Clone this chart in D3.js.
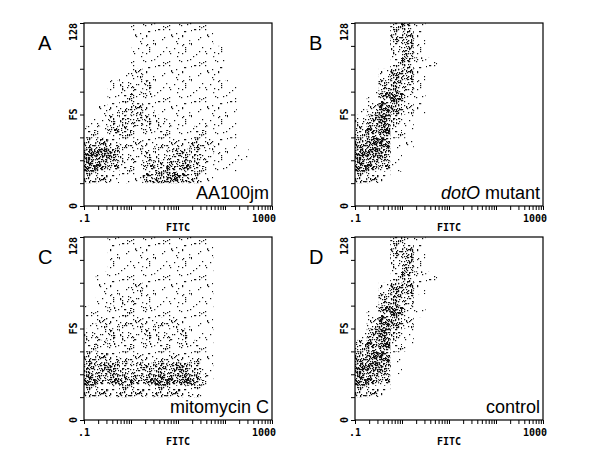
<!DOCTYPE html><html><head><meta charset="utf-8">
<script src="https://cdn.jsdelivr.net/npm/d3@7"></script>
<style>body{margin:0;background:#fff}</style></head><body><svg id="c" width="600" height="450"></svg>
<script>
// Density grids (16 cols = FITC log decades 0.1..1000 in quarter-decade steps; 16 rows = FS 128..0 in steps of 8)
const panelLetters=["A","B","C","D"];
const panelNames=["AA100jm","dotO mutant","mitomycin C","control"];
const xTickLabels=[".1","1000"];
const yTickLabels=["0","128"];
const gridA=["0000111111100000","0000111111100000","0000111111110000","0000111111110000","0001211111110000","0012221111111000","0012321111111000","0122321111111000","1123322111111000","2233222212211000","3432222223211000","5542222333211100","5532233443211000","3321144543100000","0000000000000000","0000000000000000"];
const gridB=["0003410000000000","0003410000000000","0002410000000000","0002421000000000","0024410000000000","0034310000000000","0145310000000000","1254210000000000","2453100000000000","3552100000000000","4551100000000000","5541000000000000","5531000000000000","3310000000000000","0000000000000000","0000000000000000"];
const gridC=["0011111111100000","0011111111100000","0011111111100000","0111111111100000","0111211111100000","0112211111100000","1122221111100000","1222222211100000","2222222221100000","2322222222100000","3332222222100000","4443334443100000","5444445554200000","3333333332000000","0000000000000000","0000000000000000"];
const gridD=["0003310000000000","0003410000000000","0002410000000000","0002421000000000","0024410000000000","0034300000000000","0145310000000000","0254200000000000","1453100000000000","3552100000000000","4551000000000000","5541000000000000","5530000000000000","3310000000000000","0000000000000000","0000000000000000"];
const grids=[gridA,gridB,gridC,gridD];

const svg=d3.select("#c");
const frames=[[84,23],[355,23],[84,237],[355,237]];
const W=188,H=183;
// dot texture inside a 36px tile (hashed positions; styling only)
const T=36, counts=[0,45,110,230,420,700];
const hash=n=>{let h=Math.imul(n+1,2654435761)>>>0;h^=h>>>15;h=Math.imul(h,2246822519)>>>0;h^=h>>>13;return h>>>0;};
const offs=d3.range(700).map(n=>{const h=hash(n);return [h%T,Math.floor(h/T)%T];});
const defs=svg.append("defs");
for(let l=1;l<=5;l++){
  const p=defs.append("pattern").attr("id","p"+l).attr("patternUnits","userSpaceOnUse").attr("width",T).attr("height",T);
  offs.slice(0,counts[l]).forEach(o=>p.append("rect").attr("x",o[0]).attr("y",o[1]).attr("width",1.2).attr("height",1.2).attr("fill","#111"));
}
frames.forEach((f,i)=>{
  const g=svg.append("g").attr("transform",`translate(${f[0]},${f[1]})`);
  const x=d3.scaleLog().domain([0.1,1000]).range([0,W]);
  const y=d3.scaleLinear().domain([0,128]).range([H,0]);
  const cells=[];
  grids[i].forEach((row,r)=>row.split("").forEach((c,k)=>{if(+c>0)cells.push({r,k,l:+c});}));
  g.selectAll("rect.cell").data(cells).enter().append("rect")
    .attr("x",d=>x(0.1*Math.pow(10,d.k/4))).attr("width",d=>x(0.1*Math.pow(10,(d.k+1)/4))-x(0.1*Math.pow(10,d.k/4)))
    .attr("y",d=>y(128-d.r*8)).attr("height",d=>y(128-(d.r+1)*8)-y(128-d.r*8))
    .attr("fill",d=>`url(#p${d.l})`);
  g.append("rect").attr("width",W).attr("height",H).attr("fill","none").attr("stroke","#000").attr("stroke-width",1.2);
  const xa=g.append("g").attr("transform",`translate(0,${H})`).call(d3.axisBottom(x).tickValues(x.ticks()).tickSize(4).tickFormat(""));
  xa.select(".domain").remove();
  const ya=g.append("g").call(d3.axisLeft(y).tickValues(d3.range(0,129,16)).tickSize(4).tickFormat(""));
  ya.select(".domain").remove();
  const tf="'DejaVu Sans Mono',monospace";
  g.append("text").attr("x",-6).attr("y",H+16).attr("font-family",tf).attr("font-weight","bold").attr("font-size",10).text(xTickLabels[0]);
  g.append("text").attr("x",W+4).attr("y",H+16).attr("text-anchor","end").attr("font-family",tf).attr("font-weight","bold").attr("font-size",10).text(xTickLabels[1]);
  g.append("text").attr("x",W/2).attr("y",H+25).attr("text-anchor","middle").attr("font-family",tf).attr("font-weight","bold").attr("font-size",10).text("FITC");
  g.append("text").attr("transform",`translate(-7,${H}) rotate(-90)`).attr("text-anchor","middle").attr("font-family",tf).attr("font-weight","bold").attr("font-size",10).text(yTickLabels[0]);
  g.append("text").attr("transform",`translate(-7,0) rotate(-90)`).attr("text-anchor","end").attr("font-family",tf).attr("font-weight","bold").attr("font-size",10).text(yTickLabels[1]);
  g.append("text").attr("transform",`translate(-7,${H/2}) rotate(-90)`).attr("text-anchor","middle").attr("font-family",tf).attr("font-weight","bold").attr("font-size",10).text("FS");
  g.append("text").attr("x",-46).attr("y",27).attr("font-family","Liberation Sans,Arial").attr("font-size",20).text(panelLetters[i]);
  const t=g.append("text").attr("x",W-3).attr("y",H-7).attr("text-anchor","end").attr("font-family","Liberation Sans,Arial").attr("font-size",18).attr("fill","#000");
  if(i===1){t.append("tspan").attr("font-style","italic").text("dotO");t.append("tspan").text(" mutant");}
  else t.text(panelNames[i]);
});
</script></body></html>
